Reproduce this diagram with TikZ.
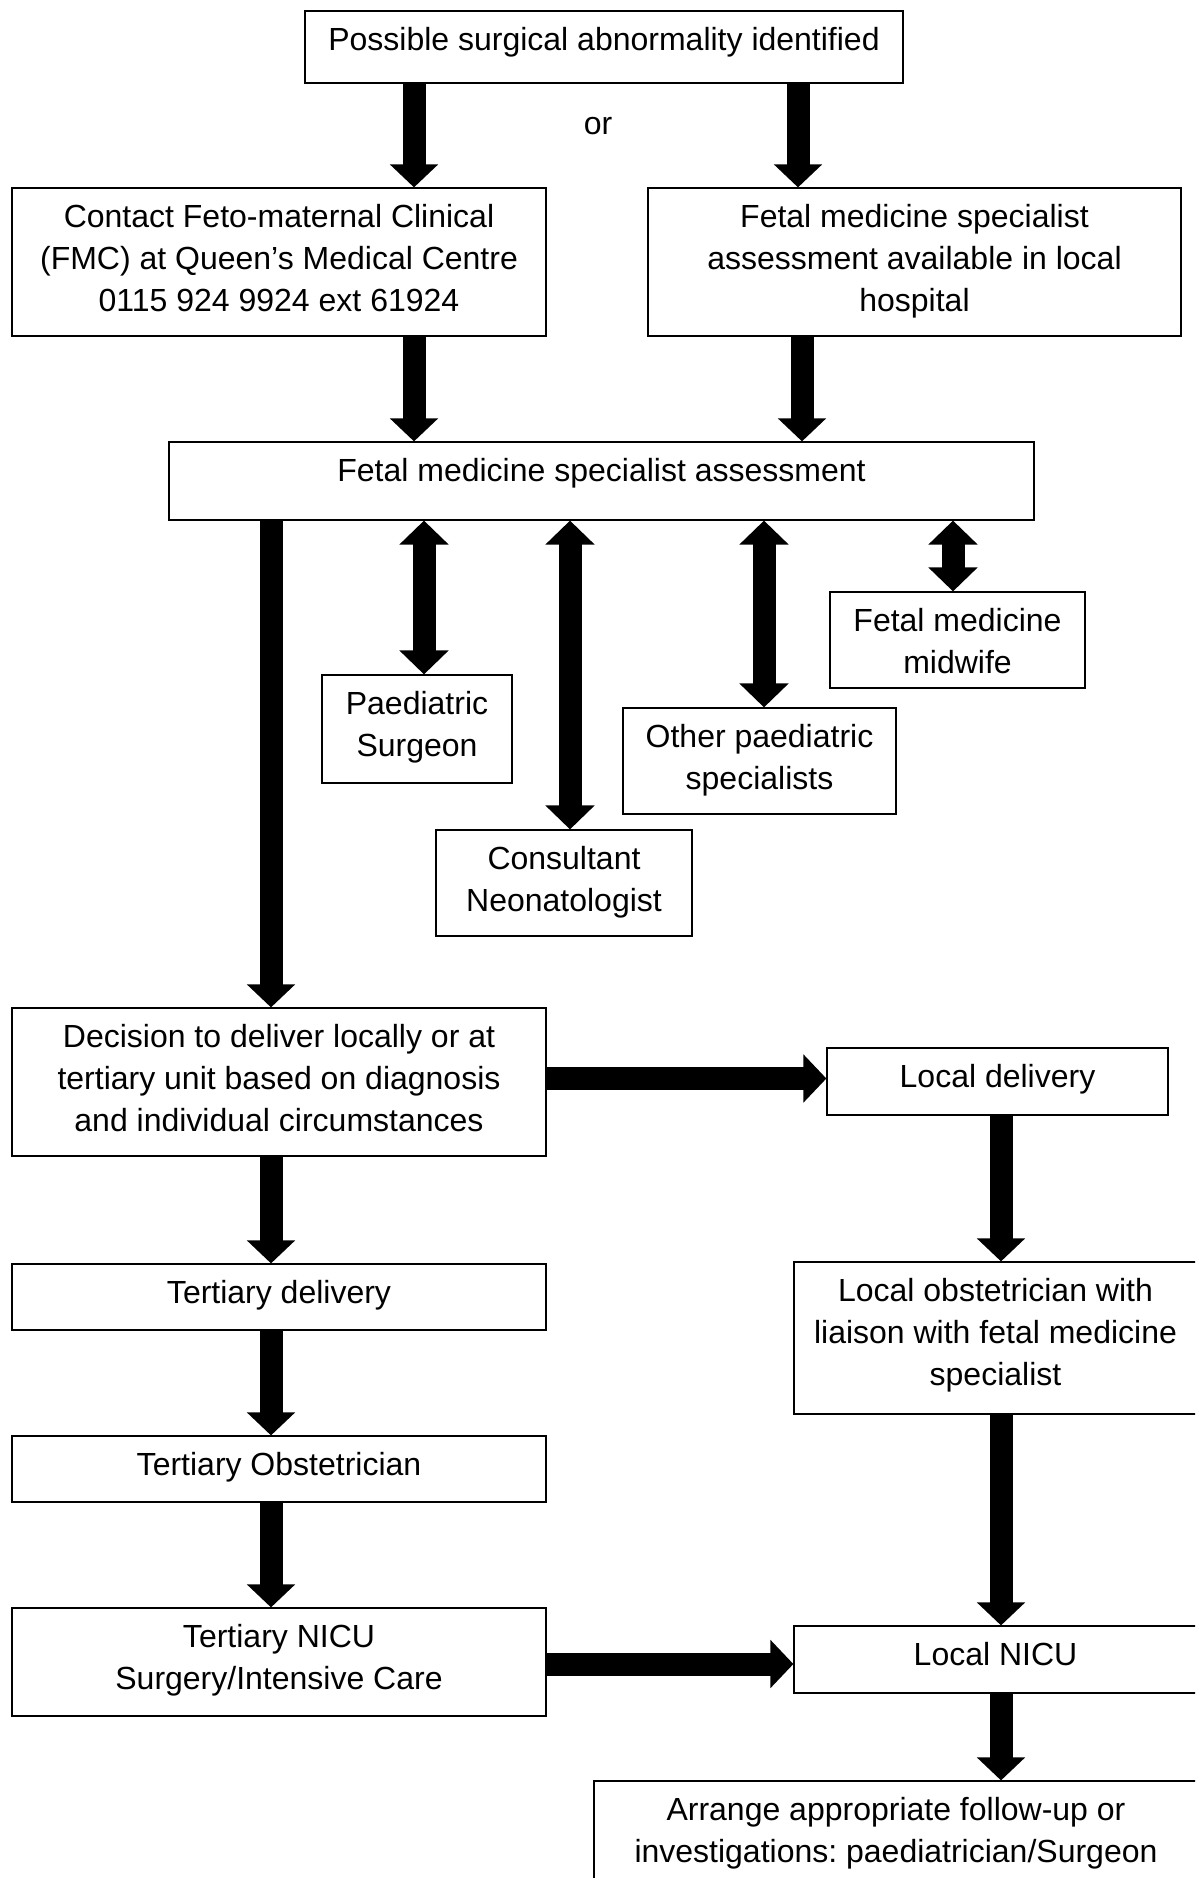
\documentclass[tikz,border=0pt]{standalone}
\usepackage{fontspec}
\setmainfont{Liberation Sans}
\usetikzlibrary{arrows.meta,fit}
\frenchspacing
% #1 name, #2 left, #3 top, #4 right, #5 bottom, #6 number of extra lines, #7 text
\newcommand\flowbox[7]{%
  \node[box, fit={(#2,#3) (#4,#5)}] (#1) {};
  \node[txt] (#1-t) at ([yshift=-40pt-42pt*#6]#1.north) {#7};
}
\begin{document}
\begin{tikzpicture}[x=1pt,y=-1pt,
  box/.style={draw, line width=1.2pt, fill=white, inner sep=0pt},
  txt/.style={font=\fontsize{32}{42}\selectfont, align=center, anchor=base, inner sep=0pt},
  bigarrow/.style={line width=23pt, -{Triangle[length=23pt 0 0, width=47pt 0 0]}},
  dblarrow/.style={line width=23pt, {Triangle[length=24pt 0 0, width=48pt 0 0]}-{Triangle[length=24pt 0 0, width=48pt 0 0]}},
]
\useasboundingbox (0,0) rectangle (1195,1878);
\fill[white] (0,0) rectangle (1195,1878);
\clip (0,0) rectangle (1195,1878);

\flowbox{top}{305}{11}{903}{83}{0}{Possible surgical abnormality identified}
\flowbox{contact}{12}{188}{546}{336}{2}{Contact Feto-maternal Clinical\\(FMC) at Queen’s Medical Centre\\0115 924 9924 ext 61924}
\flowbox{fmslocal}{648}{188}{1181}{336}{2}{Fetal medicine specialist\\assessment available in local\\hospital}
\flowbox{assess}{169}{442}{1034}{520}{0}{Fetal medicine specialist assessment}
\flowbox{paedsurg}{322}{675}{512}{783}{1}{Paediatric\\Surgeon}
\flowbox{consult}{436}{830}{692}{936}{1}{Consultant\\Neonatologist}
\flowbox{other}{623}{708}{896}{814}{1}{Other paediatric\\specialists}
\flowbox{midwife}{830}{592}{1085}{688}{1}{Fetal medicine\\midwife}
\flowbox{decision}{12}{1008}{546}{1156}{2}{Decision to deliver locally or at\\tertiary unit based on diagnosis\\and individual circumstances}
\flowbox{localdel}{827}{1048}{1168}{1115}{0}{Local delivery}
\flowbox{tertdel}{12}{1264}{546}{1330}{0}{Tertiary delivery}
\flowbox{localobs}{794}{1262}{1197}{1414}{2}{Local obstetrician with\\liaison with fetal medicine\\specialist}
\flowbox{tertobs}{12}{1436}{546}{1502}{0}{Tertiary Obstetrician}
\flowbox{tertnicu}{12}{1608}{546}{1716}{1}{Tertiary NICU\\Surgery/Intensive Care}
\flowbox{localnicu}{794}{1626}{1197}{1693}{0}{Local NICU}
\flowbox{arrange}{594}{1781}{1198}{1930}{1}{Arrange appropriate follow-up or\\investigations: paediatrician/Surgeon}

\node[txt] (or) at (598,135) {or};

\coordinate (xa) at (414,0);
\coordinate (xb) at (798,0);
\coordinate (xc) at (802,0);
\coordinate (xl) at (271,0);
\coordinate (xp) at (424,0);
\coordinate (xn) at (570,0);
\coordinate (xo) at (764,0);
\coordinate (xm) at (953,0);
\coordinate (xr) at (1001,0);
\coordinate (ya) at (0,1078.5);
\coordinate (yb) at (0,1664);

\draw[bigarrow] (top.south -| xa) -- (contact.north -| xa);
\draw[bigarrow] (top.south -| xb) -- (fmslocal.north -| xb);
\draw[bigarrow] (contact.south -| xa) -- (assess.north -| xa);
\draw[bigarrow] (fmslocal.south -| xc) -- (assess.north -| xc);
\draw[bigarrow] (assess.south -| xl) -- (decision.north -| xl);
\draw[dblarrow] (assess.south -| xp) -- (paedsurg.north -| xp);
\draw[dblarrow] (assess.south -| xn) -- (consult.north -| xn);
\draw[dblarrow] (assess.south -| xo) -- (other.north -| xo);
\draw[dblarrow] (assess.south -| xm) -- (midwife.north -| xm);
\draw[bigarrow] (decision.east |- ya) -- (localdel.west |- ya);
\draw[bigarrow] (localdel.south -| xr) -- (localobs.north -| xr);
\draw[bigarrow] (decision.south -| xl) -- (tertdel.north -| xl);
\draw[bigarrow] (tertdel.south -| xl) -- (tertobs.north -| xl);
\draw[bigarrow] (tertobs.south -| xl) -- (tertnicu.north -| xl);
\draw[bigarrow] (tertnicu.east |- yb) -- (localnicu.west |- yb);
\draw[bigarrow] (localobs.south -| xr) -- (localnicu.north -| xr);
\draw[bigarrow] (localnicu.south -| xr) -- (arrange.north -| xr);
\end{tikzpicture}
\end{document}
